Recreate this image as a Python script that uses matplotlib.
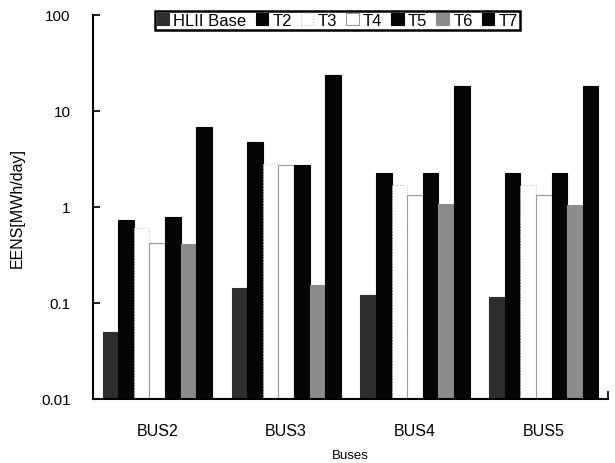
import numpy as np
import matplotlib
matplotlib.use('Agg')
import matplotlib.pyplot as plt
from matplotlib.ticker import FixedLocator, FixedFormatter, NullLocator

plt.rcParams['font.family'] = ['Liberation Sans', 'DejaVu Sans']

# data
buses = ['BUS2', 'BUS3', 'BUS4', 'BUS5']
series = ['HLII Base', 'T2', 'T3', 'T4', 'T5', 'T6', 'T7']
hlii_base = [0.040, 0.133, 0.11, 0.105]
t2 = [0.72, 4.7, 2.26, 2.26]
t3 = [0.59, 2.8, 1.69, 1.69]
t4 = [0.41, 2.75, 1.33, 1.33]
t5 = [0.77, 2.75, 2.26, 2.26]
t6 = [0.40, 0.143, 1.05, 1.03]
t7 = [6.8, 23.7, 18.2, 18.0]
ytick_vals = [0.01, 0.1, 1, 10, 100]
ytick_text = ['0.01', '0.1', '1', '10', '100']

values = [hlii_base, t2, t3, t4, t5, t6, t7]
faces = ['#2e2e2e', '#050505', 'white', 'white', '#050505', '#8c8c8c', '#050505']
edges = ['#2e2e2e', '#050505', '#c8c8c8', '#9a9a9a', '#050505', '#8c8c8c', '#050505']
styles = ['-', '-', ':', '-', '-', '-', '-']

fig = plt.figure(figsize=[6.15, 4.64], dpi=100)
ax = fig.add_axes([0.151, 0.138, 0.838, 0.828])

x = np.arange(len(buses))
w = 0.121
for i, vals in enumerate(values):
    ax.bar(x + (i - 3) * w, vals, width=w, bottom=0.01, color=faces[i],
           edgecolor=edges[i], linewidth=0.8, linestyle=styles[i],
           label=series[i])

ax.set_yscale('log')
ax.set_ylim(0.01, 100)
ax.set_xlim(-0.5, 3.5)
ax.yaxis.set_major_locator(FixedLocator(ytick_vals))
ax.yaxis.set_major_formatter(FixedFormatter(ytick_text))
ax.yaxis.set_minor_locator(NullLocator())
ax.tick_params(axis='y', direction='in', length=5, width=1.2, pad=16,
               labelsize=11)
ax.set_xticks(x)
ax.set_xticklabels(buses)
ax.tick_params(axis='x', length=0, pad=17, labelsize=11.5)
ax.set_xticks([3.5], minor=True)
ax.tick_params(axis='x', which='minor', direction='in', length=6, width=1.2)

for s in ['top', 'right']:
    ax.spines[s].set_visible(False)
for s in ['left', 'bottom']:
    ax.spines[s].set_linewidth(1.5)

ax.set_ylabel('EENS[MWh/day]', fontsize=11.5, labelpad=12)
ax.set_xlabel('Buses', fontsize=9.5, labelpad=8)

leg = ax.legend(loc='upper center', bbox_to_anchor=(0.474, 1.01), ncol=7,
                fontsize=12, handlelength=0.75, handleheight=0.75,
                handletextpad=0.25, columnspacing=0.55, borderpad=0.12,
                borderaxespad=0, fancybox=False, framealpha=1)
leg.get_frame().set_edgecolor('black')
leg.get_frame().set_linewidth(1.8)

plt.savefig('out.png')
